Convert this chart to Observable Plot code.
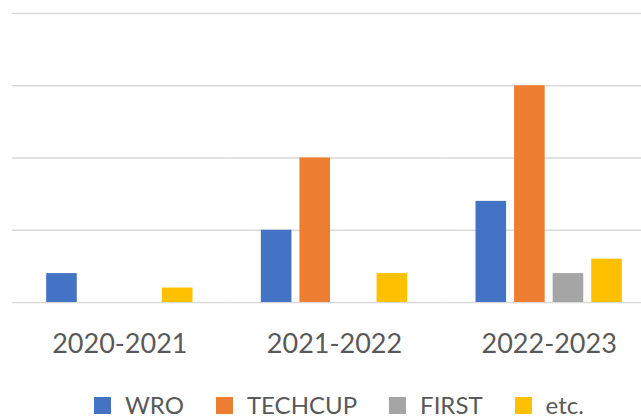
<!DOCTYPE html>
<html>
<head>
<meta charset="utf-8">
<script src="https://cdn.jsdelivr.net/npm/d3@7"></script>
<script src="https://cdn.jsdelivr.net/npm/@observablehq/plot@0.6"></script>
<style>
  html, body { margin: 0; padding: 0; background: #fff; }
  #wrap { position: relative; width: 641px; height: 418px; overflow: hidden; font-family: Lato, "Open Sans", sans-serif; }
  #chart { position: absolute; left: 0; top: 0; width: 656px; }
  #chart svg { max-width: none !important; }
  #legend { position: absolute; left: 94px; top: 393px; display: flex; align-items: center; gap: 32px; color: #595959; font-size: 24px; line-height: 24px; }
  #legend .item { display: flex; align-items: center; gap: 14px; }
  #legend .sw { width: 17px; height: 17px; display: inline-block; }
</style>
</head>
<body>
<div id="wrap">
  <div id="chart"></div>
  <div id="legend"></div>
</div>
<script>
const years = ["2020-2021", "2021-2022", "2022-2023"];
const series = ["WRO", "TECHCUP", "FIRST", "etc."];
const wro = [2, 5, 7];
const techcup = [0, 10, 15];
const first = [0, 0, 2];
const etcVals = [1, 2, 3];
const colors = ["#4472C4", "#ED7D31", "#A5A5A5", "#FFC000"];
const gridTicks = [0, 5, 10, 15, 20];

const seriesValues = [wro, techcup, first, etcVals];
const data = years.flatMap((y, i) =>
  series.map((s, j) => ({ year: y, series: s, value: seriesValues[j][i] }))
).filter(d => d.value > 0);

const chart = Plot.plot({
  width: 656,
  height: 365,
  marginLeft: 12,
  marginRight: 0,
  marginTop: 13,
  marginBottom: 63,
  style: { color: "#595959", fontFamily: "Lato, 'Open Sans', sans-serif", background: "transparent", maxWidth: "none" },
  fx: { domain: years, padding: 0, round: false, label: null },
  x: { domain: series, paddingInner: 0.207, paddingOuter: 0.886, round: false, axis: null },
  y: { domain: [0, 20], axis: null },
  color: { domain: series, range: colors },
  marks: [
    Plot.ruleY(gridTicks, { stroke: "#d9d9d9", strokeWidth: 1.5 }),
    Plot.barY(data, { fx: "year", x: "series", y: "value", fill: "series" }),
    Plot.axisFx({ anchor: "bottom", tickSize: 0, tickPadding: 31, fontSize: 27, label: null })
  ]
});
document.getElementById("chart").appendChild(chart);

const legend = document.getElementById("legend");
series.forEach((s, i) => {
  const item = document.createElement("div");
  item.className = "item";
  const sw = document.createElement("span");
  sw.className = "sw";
  sw.style.background = colors[i];
  const t = document.createElement("span");
  t.textContent = s;
  item.appendChild(sw);
  item.appendChild(t);
  legend.appendChild(item);
});
</script>
</body>
</html>
